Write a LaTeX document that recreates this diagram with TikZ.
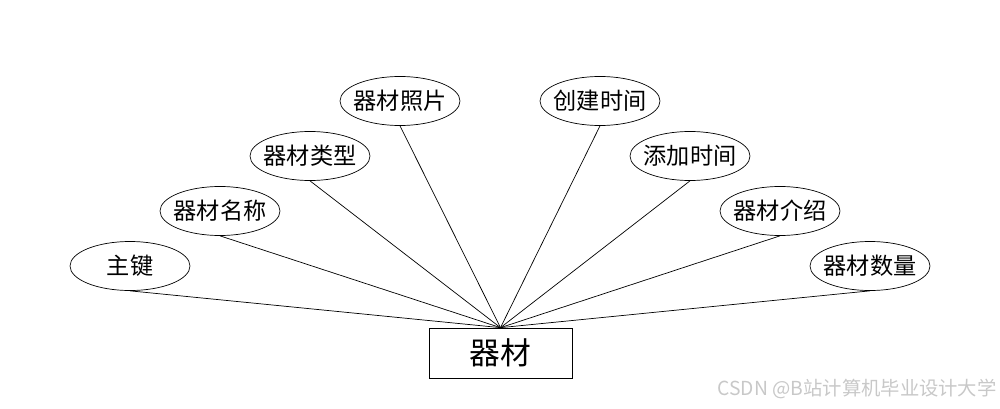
\documentclass[tikz,border=0pt]{standalone}
\usepackage{fontspec}
\setmainfont{Noto Sans CJK SC}
\usepackage{tikz}
\usetikzlibrary{positioning,shapes.geometric}
\definecolor{mark}{HTML}{C8C8C8}

\begin{document}
\begin{tikzpicture}[
    attr/.style={draw, ellipse, minimum width=2.4cm, minimum height=0.98cm, inner xsep=-3pt, inner ysep=0pt, font=\fontsize{13.2}{15}\selectfont},
    entity/.style={draw, rectangle, minimum width=2.86cm, minimum height=1cm, inner sep=0pt, font=\fontsize{17.5}{20}\selectfont},
    link/.style={draw, line width=0.4pt}
  ]
    \useasboundingbox (0,0) rectangle (20,8.16);
    % entity
    \node[entity] (eq) at (10.01,1.1) {器材};
    % attributes
    \node[attr] (key) at (2.6,2.84) {主键};
    \node[attr] (name) at (4.4,3.94) {器材名称};
    \node[attr] (type) at (6.2,5.04) {器材类型};
    \node[attr] (photo) at (8.0,6.14) {器材照片};
    \node[attr] (ctime) at (12.0,6.14) {创建时间};
    \node[attr] (atime) at (13.8,5.04) {添加时间};
    \node[attr] (intro) at (15.6,3.94) {器材介绍};
    \node[attr] (count) at (17.4,2.84) {器材数量};
    \foreach \a in {key,name,type,photo,ctime,atime,intro,count}
      \draw[link] (\a.south) -- (eq.north);
    % watermark
    \node[text=mark, anchor=east, inner sep=0pt, font=\fontsize{11}{13}\selectfont] (wm) at (19.94,0.38) {CSDN @B站计算机毕业设计大学};
  \end{tikzpicture}
\end{document}
